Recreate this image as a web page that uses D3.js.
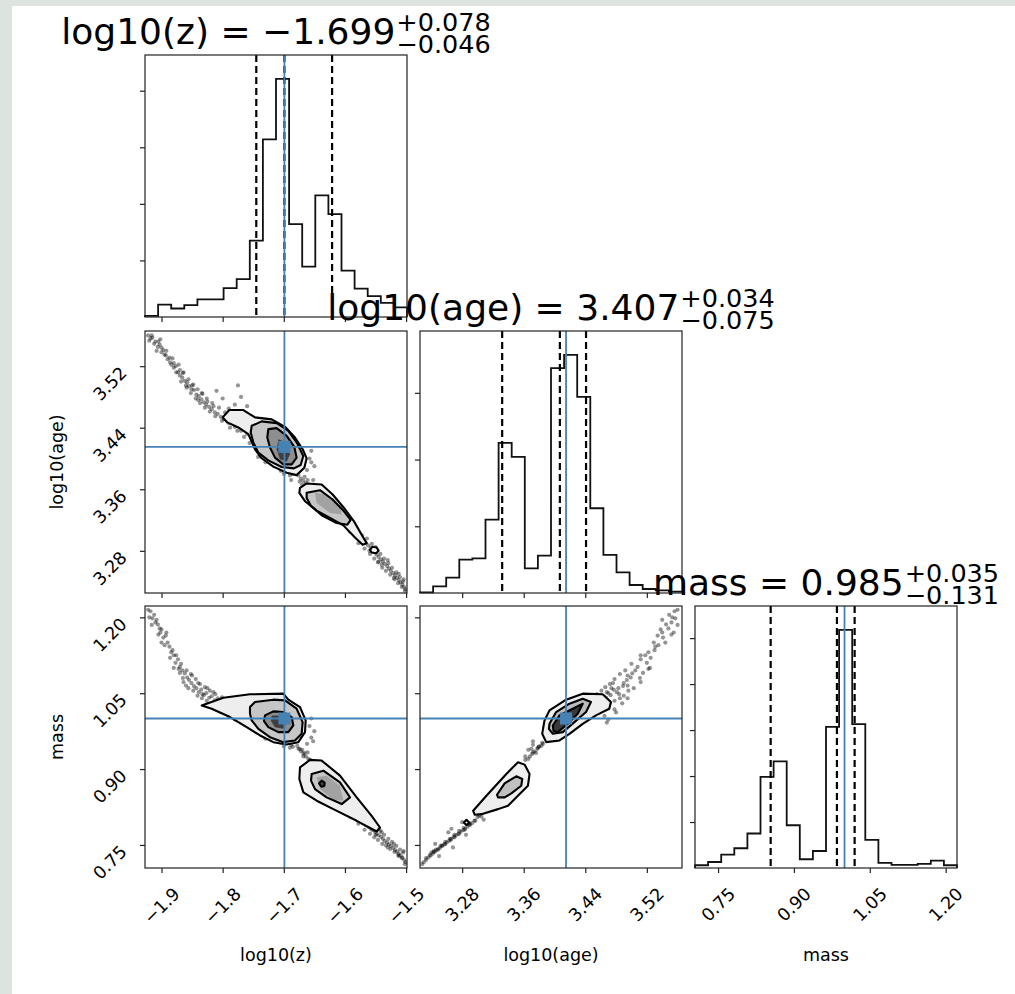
<!DOCTYPE html>
<html>
<head>
<meta charset="utf-8">
<script src="https://cdn.jsdelivr.net/npm/d3@7"></script>
<style>
  body { margin: 0; background: #dde4df; }
  svg { display: block; font-family: "DejaVu Sans", sans-serif; }
</style>
</head>
<body>
<div id="chart"></div>
<script>
// parameter names and axis ranges
let names = ["log10(z)", "log10(age)", "mass"];
let zRange = [-1.927, -1.4985];
let ageRange = [3.2252, 3.5657];
let massRange = [0.7044, 1.2224];

// tick values + labels
let zTicks = [-1.9, -1.8, -1.7, -1.6, -1.5];
let zTickLabels = ["−1.9", "−1.8", "−1.7", "−1.6", "−1.5"];
let ageTicks = [3.28, 3.36, 3.44, 3.52];
let ageTickLabels = ["3.28", "3.36", "3.44", "3.52"];
let massTicks = [0.75, 0.9, 1.05, 1.2];
let massTickLabels = ["0.75", "0.90", "1.05", "1.20"];

// 1d histograms, 20 bins over each range (counts)
let zCounts = [2, 22, 15, 21, 31, 31, 51, 67, 135, 314, 421, 164, 89, 215, 182, 82, 50, 37, 25, 17];
let ageCounts = [1, 10, 23, 50, 52, 110, 225, 204, 37, 56, 337, 357, 294, 127, 57, 31, 12, 6, 4, 2];
let massCounts = [6, 13, 29, 43, 75, 198, 232, 93, 19, 37, 307, 518, 313, 61, 11, 7, 7, 9, 16, 6];
let countTicks = [100, 200, 300, 400, 500];

// 16/50/84 quantiles and truth values
let zQuant = [-1.745, -1.699, -1.621];
let ageQuant = [3.332, 3.407, 3.441];
let massQuant = [0.854, 0.985, 1.020];
let truths = [-1.699, 3.415, 1.0];

// titles
let titleMain = ["log10(z) = −1.699", "log10(age) = 3.407", "mass = 0.985"];
let titleUp = ["+0.078", "+0.034", "+0.035"];
let titleDn = ["−0.046", "−0.075", "−0.131"];

// samples outside the contours (z, age, mass)
let sampleZ = [-1.922,-1.918,-1.915,-1.912,-1.910,-1.906,-1.903,-1.900,-1.897,-1.893,-1.890,-1.887,-1.884,-1.880,-1.877,-1.873,-1.870,-1.866,-1.862,-1.858,-1.855,-1.851,-1.847,-1.843,-1.839,-1.835,-1.831,-1.827,-1.822,-1.818,-1.813,-1.808,-1.803,-1.798,-1.790,-1.780,-1.770,-1.760,-1.752,-1.745,-1.880,-1.865,-1.850,-1.840,-1.825,-1.900,-1.905,-1.860,-1.833,-1.815,-1.795,-1.870,
  -1.672,-1.668,-1.664,-1.676,-1.660,-1.666,-1.670,-1.662,-1.700,-1.690,-1.730,-1.742,-1.655,-1.688,
  -1.575,-1.570,-1.566,-1.562,-1.558,-1.555,-1.551,-1.548,-1.545,-1.541,-1.538,-1.535,-1.531,-1.528,-1.525,-1.521,-1.518,-1.515,-1.512,-1.509,-1.506,-1.503,-1.501,-1.560,-1.550,-1.540,-1.530,-1.520,-1.512,-1.505,-1.545,-1.585,-1.595,-1.580,
  -1.920,-1.916,-1.908,-1.902,-1.895,-1.892,-1.886,-1.882,-1.876,-1.872,-1.868,-1.864,-1.859,-1.856,-1.852,-1.848,-1.844,-1.841,-1.837,-1.834,-1.829,-1.826,-1.821,-1.817,-1.812,-1.806,-1.801,-1.796,-1.788,-1.784,-1.776,-1.772,-1.765,-1.756,-1.748,-1.740,-1.735,-1.725,-1.715,-1.705,
  -1.685,-1.678,-1.674,-1.668,-1.661,-1.657,-1.652,-1.650,-1.658,-1.655,
  -1.790,-1.780,-1.770,-1.800,-1.760,-1.810,-1.775,
  -1.600,-1.592,-1.588,-1.578,-1.572,-1.568,-1.564,-1.559,-1.556,-1.552,-1.549,-1.546,-1.542,-1.539,-1.536,-1.533,-1.529,-1.526,-1.523,-1.519,-1.516,-1.513,-1.510,-1.507,-1.504,-1.502,-1.610,-1.620,-1.630,-1.640];
let sampleAge = [3.560,3.556,3.557,3.549,3.552,3.545,3.548,3.538,3.541,3.534,3.529,3.531,3.522,3.518,3.520,3.512,3.508,3.505,3.501,3.499,3.494,3.490,3.489,3.483,3.481,3.477,3.473,3.470,3.467,3.464,3.460,3.458,3.454,3.451,3.446,3.441,3.436,3.432,3.427,3.423,3.524,3.511,3.495,3.476,3.474,3.544,3.552,3.495,3.484,3.468,3.455,3.515,
  3.374,3.371,3.368,3.378,3.366,3.376,3.366,3.385,3.380,3.378,3.395,3.402,3.395,3.372,
  3.297,3.293,3.290,3.287,3.284,3.281,3.278,3.275,3.272,3.269,3.266,3.263,3.260,3.257,3.254,3.251,3.248,3.245,3.242,3.239,3.236,3.233,3.230,3.280,3.285,3.262,3.268,3.245,3.250,3.240,3.266,3.302,3.310,3.308,
  3.553,3.560,3.540,3.555,3.535,3.540,3.525,3.530,3.512,3.522,3.500,3.512,3.492,3.503,3.485,3.496,3.478,3.490,3.472,3.485,3.466,3.478,3.461,3.472,3.455,3.466,3.449,3.460,3.440,3.452,3.436,3.446,3.428,3.420,3.432,3.414,3.405,3.398,3.390,3.384,
  3.380,3.383,3.370,3.362,3.372,3.362,3.372,3.390,3.400,3.410,
  3.465,3.470,3.480,3.478,3.468,3.488,3.495,
  3.318,3.305,3.312,3.290,3.300,3.283,3.296,3.276,3.289,3.270,3.282,3.265,3.276,3.258,3.270,3.254,3.264,3.249,3.258,3.243,3.252,3.238,3.246,3.233,3.243,3.228,3.325,3.335,3.345,3.352];
let sampleMass = [1.215,1.212,1.198,1.205,1.190,1.186,1.178,1.176,1.160,1.164,1.150,1.142,1.131,1.125,1.110,1.117,1.102,1.095,1.089,1.081,1.076,1.070,1.064,1.060,1.052,1.057,1.046,1.050,1.041,1.044,1.036,1.040,1.031,1.035,1.028,1.030,1.022,1.018,1.012,1.006,1.100,1.080,1.085,1.070,1.060,1.150,1.166,1.065,1.048,1.052,1.024,1.090,
  0.935,0.930,0.925,0.940,0.920,0.932,0.938,0.950,0.945,0.942,0.960,0.972,0.962,0.948,
  0.798,0.793,0.789,0.786,0.782,0.779,0.776,0.772,0.769,0.766,0.762,0.758,0.755,0.751,0.748,0.744,0.740,0.737,0.733,0.729,0.725,0.720,0.716,0.795,0.770,0.775,0.745,0.752,0.728,0.735,0.782,0.808,0.815,0.800,
  1.200,1.185,1.195,1.170,1.145,1.170,1.120,1.135,1.125,1.098,1.108,1.072,1.095,1.060,1.088,1.055,1.078,1.045,1.068,1.040,1.062,1.035,1.055,1.030,1.048,1.025,1.042,1.020,1.036,1.015,1.032,1.010,1.026,1.000,0.996,0.990,0.975,0.968,0.958,0.952,
  0.944,0.946,0.940,0.925,0.933,0.918,0.955,0.975,0.985,1.000,
  1.005,0.998,1.012,1.018,0.992,1.030,1.040,
  0.822,0.806,0.818,0.792,0.805,0.780,0.798,0.772,0.791,0.765,0.784,0.760,0.778,0.752,0.770,0.749,0.762,0.742,0.756,0.736,0.748,0.730,0.741,0.724,0.738,0.712,0.830,0.845,0.860,0.875];

// contour outlines, z vs age
let zAgeUp1 = [[-1.800,3.4534],[-1.7891,3.4630],[-1.7662,3.4630],[-1.7471,3.4534],[-1.7198,3.4508],[-1.6980,3.4412],[-1.6817,3.4273],[-1.6691,3.4120],[-1.6626,3.4002],[-1.6664,3.3880],[-1.6790,3.3784],[-1.6953,3.3815],[-1.7171,3.3894],[-1.7362,3.4003],[-1.7471,3.4120],[-1.7580,3.4316],[-1.7744,3.4403],[-1.7924,3.4469]];
let zAgeUp2 = [[-1.7525,3.4425],[-1.7362,3.4482],[-1.7116,3.4460],[-1.6926,3.4360],[-1.6788,3.4207],[-1.6681,3.4033],[-1.6724,3.3915],[-1.6833,3.3872],[-1.7035,3.3889],[-1.7254,3.3976],[-1.7416,3.4076],[-1.7498,3.4207],[-1.7541,3.4338]];
let zAgeUp3 = [[-1.7253,3.4382],[-1.7116,3.4395],[-1.6953,3.4295],[-1.6828,3.4151],[-1.6790,3.4011],[-1.6871,3.3924],[-1.7008,3.3924],[-1.7144,3.4011],[-1.7226,3.4142],[-1.7270,3.4273]];
let zAgeUp4 = [[-1.7089,3.4251],[-1.6953,3.4207],[-1.6899,3.4055],[-1.6953,3.3959],[-1.7062,3.3989],[-1.7116,3.4120]];
let zAgeLow1 = [[-1.6735,3.3619],[-1.6626,3.3676],[-1.6381,3.3662],[-1.6201,3.3532],[-1.6015,3.3357],[-1.5852,3.3183],[-1.5710,3.2987],[-1.5645,3.2900],[-1.5710,3.2878],[-1.5836,3.2974],[-1.6026,3.3131],[-1.6244,3.3227],[-1.6463,3.3323],[-1.6653,3.3445],[-1.6746,3.3554]];
let zAgeLow2 = [[-1.6626,3.3554],[-1.6408,3.3588],[-1.6201,3.3467],[-1.6015,3.3314],[-1.5906,3.3201],[-1.5961,3.3140],[-1.6135,3.3161],[-1.6381,3.3262],[-1.6560,3.3388],[-1.6626,3.3488]];
let zAgeLow3 = [[-1.6490,3.3554],[-1.6299,3.3532],[-1.6081,3.3379],[-1.6053,3.3271],[-1.6244,3.3292],[-1.6463,3.3423]];
let zAgeDot = [[-1.5590,3.2813],[-1.5552,3.2852],[-1.5481,3.2843],[-1.5448,3.2800],[-1.5492,3.2769],[-1.5563,3.2778]];

// contour outlines, z vs mass
let zMassUp1 = [[-1.8343,1.0259],[-1.7989,1.0411],[-1.7553,1.0478],[-1.7008,1.0491],[-1.6926,1.0372],[-1.6735,1.0226],[-1.6642,0.9961],[-1.6653,0.9730],[-1.6762,0.9532],[-1.6953,0.9485],[-1.7171,0.9532],[-1.7389,0.9664],[-1.7607,0.9829],[-1.7880,1.0028],[-1.8180,1.0193]];
let zMassUp2 = [[-1.7553,1.0226],[-1.7471,1.0325],[-1.7171,1.0372],[-1.6980,1.0358],[-1.6790,1.0193],[-1.6692,0.9928],[-1.6708,0.9697],[-1.6817,0.9564],[-1.7008,0.9532],[-1.7226,0.9631],[-1.7416,0.9796],[-1.7525,0.9962],[-1.7553,1.0094]];
let zMassUp3 = [[-1.7307,1.0061],[-1.7171,1.0140],[-1.7008,1.0127],[-1.6871,1.0028],[-1.6844,0.9862],[-1.6926,0.9730],[-1.7089,0.9730],[-1.7253,0.9829],[-1.7324,0.9948]];
let zMassUp4 = [[-1.7198,1.0061],[-1.7035,1.0061],[-1.6953,0.9928],[-1.7008,0.9796],[-1.7144,0.9829],[-1.7210,0.9948]];
let zMassLow1 = [[-1.6735,0.9035],[-1.6571,0.9181],[-1.6381,0.9168],[-1.6081,0.8870],[-1.5808,0.8440],[-1.5563,0.8076],[-1.5427,0.7845],[-1.5481,0.7765],[-1.5808,0.7977],[-1.6190,0.8209],[-1.6462,0.8374],[-1.6680,0.8539],[-1.6746,0.8804]];
let zMassLow2 = [[-1.6544,0.8903],[-1.6353,0.8969],[-1.6081,0.8738],[-1.5917,0.8440],[-1.6053,0.8308],[-1.6299,0.8440],[-1.6490,0.8605],[-1.6555,0.8771]];
let zMassLow3 = [[-1.6463,0.8837],[-1.6299,0.8870],[-1.6081,0.8672],[-1.6026,0.8374],[-1.6190,0.8387],[-1.6408,0.8605]];
let zMassDot = [[-1.6424,0.8718],[-1.6381,0.8771],[-1.6332,0.8731],[-1.6337,0.8665],[-1.6386,0.8652]];

// contour outlines, age vs mass
let ageMassUp1 = [[3.3870,0.9962],[3.3935,1.0160],[3.4151,1.0372],[3.4367,1.0491],[3.4626,1.0478],[3.4733,1.0325],[3.4712,1.0193],[3.4539,1.0061],[3.4367,0.9895],[3.4194,0.9697],[3.4065,0.9565],[3.3892,0.9532],[3.3840,0.9697]];
let ageMassUp2 = [[3.3935,0.9895],[3.4021,1.0127],[3.4194,1.0292],[3.4367,1.0391],[3.4474,1.0325],[3.4410,1.0127],[3.4259,0.9928],[3.4108,0.9730],[3.3978,0.9697],[3.3927,0.9796]];
let ageMassUp3 = [[3.3978,0.9862],[3.4065,1.0061],[3.4237,1.0193],[3.4367,1.0292],[3.4302,1.0094],[3.4172,0.9895],[3.4043,0.9730],[3.3987,0.9750]];
let ageMassLow1 = [[3.2943,0.8175],[3.3115,0.8473],[3.3374,0.8903],[3.3525,0.9135],[3.3611,0.9088],[3.3676,0.8903],[3.3655,0.8671],[3.3547,0.8506],[3.3396,0.8275],[3.3266,0.8208],[3.3050,0.8109],[3.2964,0.8096]];
let ageMassLow2 = [[3.3253,0.8493],[3.3352,0.8718],[3.3503,0.8857],[3.3581,0.8804],[3.3568,0.8671],[3.3439,0.8519],[3.3352,0.8440],[3.3266,0.8440]];
let ageMassDot = [[3.2822,0.7944],[3.2856,0.7997],[3.2891,0.7944],[3.2856,0.7891]];

let W = 1015, H = 994;
let colX = [145, 420, 695];
let rowY = [55, 331, 606];
let S = 262;
let blue = "#4682b4";

let ranges = [zRange, ageRange, massRange];
let ticks = [zTicks, ageTicks, massTicks];
let tickLabels = [zTickLabels, ageTickLabels, massTickLabels];
let counts = [zCounts, ageCounts, massCounts];
let quants = [zQuant, ageQuant, massQuant];
let samples = [sampleZ, sampleAge, sampleMass];

let svg = d3.select("#chart").append("svg").attr("width", W).attr("height", H);
svg.append("rect").attr("x", 12).attr("y", 6).attr("width", W - 12).attr("height", H - 6).attr("fill", "#fff");

let xScale = ranges.map((r, i) => d3.scaleLinear().domain(r).range([colX[i], colX[i] + S]));
let yScale = ranges.map((r, j) => d3.scaleLinear().domain(r).range([rowY[j] + S, rowY[j]]));

function bottomTicks(ci, rj) {
  svg.append("g")
    .attr("transform", `translate(0,${rowY[rj] + S})`)
    .attr("color", "#222")
    .call(d3.axisBottom(xScale[ci]).tickValues(ticks[ci]).tickSize(5).tickFormat(""))
    .call(g => g.select(".domain").remove())
    .selectAll("line").attr("stroke-width", 1.2);
}
function leftTicks(scale, vals, ci) {
  svg.append("g")
    .attr("transform", `translate(${colX[ci]},0)`)
    .attr("color", "#222")
    .call(d3.axisLeft(scale).tickValues(vals).tickSize(5).tickFormat(""))
    .call(g => g.select(".domain").remove())
    .selectAll("line").attr("stroke-width", 1.2);
}
function spine(ci, rj) {
  svg.append("rect").attr("x", colX[ci]).attr("y", rowY[rj]).attr("width", S).attr("height", S)
    .attr("fill", "none").attr("stroke", "#222").attr("stroke-width", 1.2);
}

/* HISTOGRAMS on the diagonal */
for (let i = 0; i < 3; i++) {
  let x = xScale[i];
  let c = counts[i];
  let hy = d3.scaleLinear().domain([0, 1.1 * d3.max(c)]).range([rowY[i] + S, rowY[i]]);
  let lo = ranges[i][0], hi = ranges[i][1];
  let edges = d3.range(c.length + 1).map(k => lo + k * (hi - lo) / c.length);
  let p = d3.path();
  p.moveTo(x(edges[0]), hy(0));
  c.forEach((v, k) => { p.lineTo(x(edges[k]), hy(v)); p.lineTo(x(edges[k + 1]), hy(v)); });
  p.lineTo(x(edges[c.length]), hy(0));
  svg.append("path").attr("d", p.toString()).attr("fill", "none").attr("stroke", "#111").attr("stroke-width", 1.8);

  svg.selectAll(null).data(quants[i]).enter().append("line")
    .attr("x1", d => x(d)).attr("x2", d => x(d))
    .attr("y1", rowY[i]).attr("y2", rowY[i] + S)
    .attr("stroke", "#000").attr("stroke-width", 2.2).attr("stroke-dasharray", "7,4");

  svg.append("line").attr("x1", x(truths[i])).attr("x2", x(truths[i]))
    .attr("y1", rowY[i]).attr("y2", rowY[i] + S).attr("stroke", blue).attr("stroke-width", 1.8);

  leftTicks(hy, countTicks.filter(t => t < 1.1 * d3.max(c)), i);
  bottomTicks(i, i);
  spine(i, i);
}

/* 2D PANELS */
let shapes = {
  "0-1": [
    { pts: zAgeUp1, fill: "#eeeeee", line: true },
    { pts: zAgeUp2, fill: "#c6c6c6", line: true },
    { pts: zAgeUp3, fill: "#8e8e8e", line: true },
    { pts: zAgeUp4, fill: "#3e3e3e", line: false },
    { pts: zAgeLow1, fill: "#eeeeee", line: true },
    { pts: zAgeLow2, fill: "#c6c6c6", line: true },
    { pts: zAgeLow3, fill: "#a2a2a2", line: false },
    { pts: zAgeDot, fill: "#f6f6f6", line: true }
  ],
  "0-2": [
    { pts: zMassUp1, fill: "#eeeeee", line: true },
    { pts: zMassUp2, fill: "#c6c6c6", line: true },
    { pts: zMassUp3, fill: "#8e8e8e", line: true },
    { pts: zMassUp4, fill: "#3e3e3e", line: false },
    { pts: zMassLow1, fill: "#eeeeee", line: true },
    { pts: zMassLow2, fill: "#c6c6c6", line: true },
    { pts: zMassLow3, fill: "#a2a2a2", line: false },
    { pts: zMassDot, fill: "#444444", line: true }
  ],
  "1-2": [
    { pts: ageMassUp1, fill: "#eeeeee", line: true },
    { pts: ageMassUp2, fill: "#bcbcbc", line: true },
    { pts: ageMassUp3, fill: "#3a3a3a", line: true },
    { pts: ageMassLow1, fill: "#eeeeee", line: true },
    { pts: ageMassLow2, fill: "#c0c0c0", line: true },
    { pts: ageMassDot, fill: "#ffffff", line: true }
  ]
};

[[0, 1], [0, 2], [1, 2]].forEach(([ci, rj]) => {
  let x = xScale[ci], y = yScale[rj];
  let xs = samples[ci], ys = samples[rj];
  let id = "clip" + ci + rj;
  svg.append("clipPath").attr("id", id).append("rect")
    .attr("x", colX[ci]).attr("y", rowY[rj]).attr("width", S).attr("height", S);
  let g = svg.append("g").attr("clip-path", `url(#${id})`);

  g.selectAll("circle").data(d3.range(xs.length)).enter().append("circle")
    .attr("cx", k => x(xs[k])).attr("cy", k => y(ys[k]))
    .attr("r", 2.1).attr("fill", "#000").attr("fill-opacity", 0.42);

  let line = d3.line().x(d => x(d[0])).y(d => y(d[1])).curve(d3.curveLinearClosed);
  let sh = shapes[ci + "-" + rj];
  g.selectAll("path.fill").data(sh).enter().append("path").attr("class", "fill")
    .attr("d", s => line(s.pts)).attr("fill", s => s.fill).attr("stroke", "none");
  g.selectAll("path.cont").data(sh.filter(s => s.line)).enter().append("path").attr("class", "cont")
    .attr("d", s => line(s.pts)).attr("fill", "none").attr("stroke", "#000")
    .attr("stroke-width", 2.1).attr("stroke-linejoin", "round");

  // truth lines + marker
  g.append("line").attr("x1", x(truths[ci])).attr("x2", x(truths[ci]))
    .attr("y1", rowY[rj]).attr("y2", rowY[rj] + S).attr("stroke", blue).attr("stroke-width", 1.8);
  g.append("line").attr("x1", colX[ci]).attr("x2", colX[ci] + S)
    .attr("y1", y(truths[rj])).attr("y2", y(truths[rj])).attr("stroke", blue).attr("stroke-width", 1.8);
  g.append("rect").attr("x", x(truths[ci]) - 6).attr("y", y(truths[rj]) - 6)
    .attr("width", 12).attr("height", 12).attr("fill", blue);

  leftTicks(y, ticks[rj], ci);
  bottomTicks(ci, rj);
  spine(ci, rj);
});

/* TICK LABELS */
for (let j = 1; j < 3; j++) {
  ticks[j].forEach((t, k) => {
    svg.append("text")
      .attr("text-anchor", "end")
      .attr("font-size", 17.5)
      .attr("transform", `translate(${colX[0] - 17},${yScale[j](t) + 8}) rotate(-45)`)
      .text(tickLabels[j][k]);
  });
}
for (let i = 0; i < 3; i++) {
  ticks[i].forEach((t, k) => {
    let txt = svg.append("text").attr("text-anchor", "end").attr("font-size", 17.5).text(tickLabels[i][k]);
    let w = txt.node().getComputedTextLength();
    let px = xScale[i](t) + 0.354 * (w + 12.5);
    txt.attr("transform", `translate(${px},${rowY[2] + S + 27}) rotate(-45)`);
  });
}

/* AXIS LABELS */
names.forEach((n, i) => {
  svg.append("text").attr("x", colX[i] + S / 2).attr("y", 961)
    .attr("text-anchor", "middle").attr("font-size", 17.5).text(n);
});
[1, 2].forEach(j => {
  svg.append("text").attr("text-anchor", "middle").attr("font-size", 17.5)
    .attr("transform", `translate(63,${rowY[j] + S / 2}) rotate(-90)`).text(names[j]);
});

/* TITLES (drawn last, they overlap neighbour panels) */
function drawTitle(cx, by, main, up, dn) {
  let g = svg.append("g");
  let t = g.append("text").attr("y", by).attr("font-size", 36).text(main);
  let mw = t.node().getComputedTextLength() + 1;
  let su = g.append("text").attr("x", mw).attr("y", by - 13).attr("font-size", 25.5).text(up);
  let sd = g.append("text").attr("x", mw).attr("y", by + 9).attr("font-size", 25.5).text(dn);
  let tw = mw + Math.max(su.node().getComputedTextLength(), sd.node().getComputedTextLength());
  g.attr("transform", `translate(${cx - tw / 2},0)`);
}
for (let i = 0; i < 3; i++) {
  drawTitle(colX[i] + S / 2, rowY[i] - 10.7, titleMain[i], titleUp[i], titleDn[i]);
}
</script>
</body>
</html>
